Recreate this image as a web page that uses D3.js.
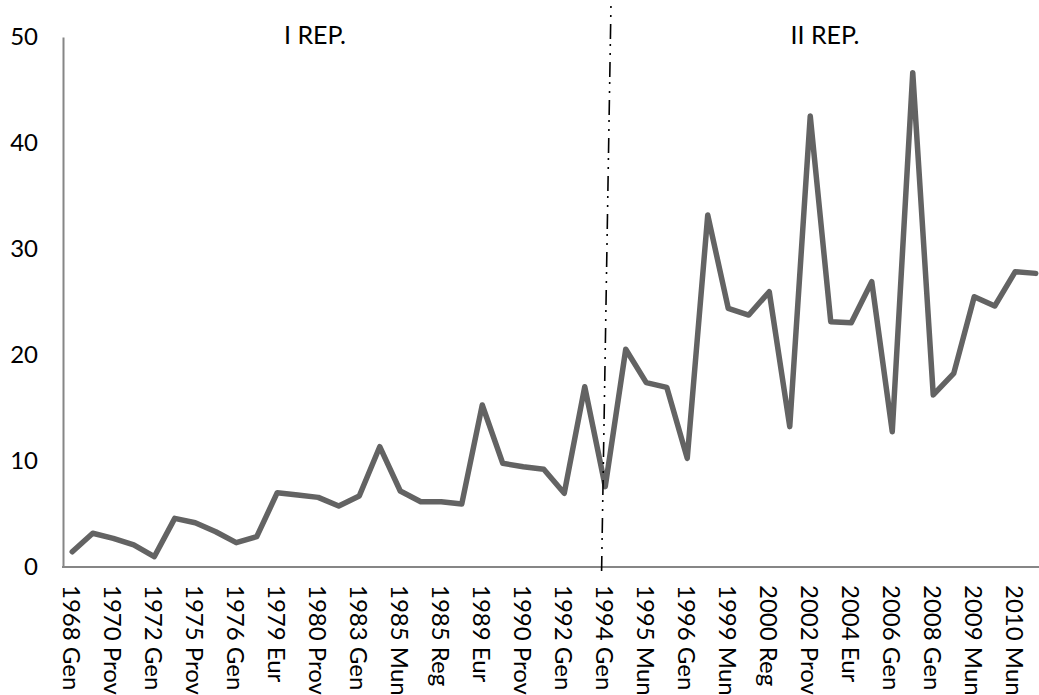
<!DOCTYPE html>
<html>
<head>
<meta charset="utf-8">
<script src="https://cdn.jsdelivr.net/npm/d3@7"></script>
<style>
  html, body { margin: 0; padding: 0; background: #fff; overflow: hidden; }
  svg { display: block; }
  text { font-family: Lato, "Open Sans", sans-serif; fill: #000; }
</style>
</head>
<body>
<svg id="chart" width="1039" height="695"></svg>
<script>
// Values (percent) for 48 consecutive elections; only every other category is labelled.
const values = [
  1.44, 3.18, 2.7, 2.08, 0.97, 4.59, 4.18, 3.33, 2.3, 2.86,
  7.01, 6.79, 6.57, 5.75, 6.7, 11.35, 7.17, 6.16, 6.16, 5.94,
  15.28, 9.78, 9.46, 9.22, 6.95, 17.0, 7.58, 20.54, 17.39, 16.95,
  10.25, 33.2, 24.4, 23.77, 25.97, 13.24, 42.55, 23.14, 23.05, 26.92,
  12.76, 46.63, 16.23, 18.27, 25.5, 24.62, 27.86, 27.7
];
// Tick labels shown on the axis (categories 0, 2, 4, ..., 46)
const tickLabels = [
  "1968 Gen", "1970 Prov", "1972 Gen", "1975 Prov", "1976 Gen", "1979 Eur",
  "1980 Prov", "1983 Gen", "1985 Mun", "1985 Reg", "1989 Eur", "1990 Prov",
  "1992 Gen", "1994 Gen", "1995 Mun", "1996 Gen", "1999 Mun", "2000 Reg",
  "2002 Prov", "2004 Eur", "2006 Gen", "2008 Gen", "2009 Mun", "2010 Mun"
];
const yTicks = [0, 10, 20, 30, 40, 50];
const periodLabels = ["I REP.", "II REP."];
const dividerIndex = 26; // 1994 Gen

const svg = d3.select("#chart");
const idx = d3.range(values.length);

const x = d3.scaleBand().domain(idx).range([62, 1046]).padding(0);
const xc = i => x(i) + x.bandwidth() / 2;
const y = d3.scaleLinear().domain([0, 50]).range([567, 37]);

// Y axis
const yAxis = svg.append("g")
  .attr("transform", "translate(63,0)")
  .call(d3.axisLeft(y).tickValues(yTicks).tickSize(0).tickPadding(25).tickFormat(d3.format("d")));
yAxis.select(".domain").attr("stroke", "#868686").attr("stroke-width", 2);
yAxis.selectAll("text").style("font-size", "24px").style("font-family", "Lato, sans-serif").attr("fill", "#000");

// X axis line
svg.append("line")
  .attr("x1", 62).attr("x2", 1039)
  .attr("y1", y(0)).attr("y2", y(0))
  .attr("stroke", "#868686").attr("stroke-width", 2);

// X tick labels (rotated)
const tickIdx = tickLabels.map((_, k) => k * 2);
svg.append("g").selectAll("text")
  .data(tickIdx)
  .join("text")
  .attr("transform", i => `translate(${xc(i) - 1},585) rotate(90)`)
  .attr("dy", "0.35em")
  .attr("text-anchor", "start")
  .style("font-size", "24px")
  .text((i, k) => tickLabels[k]);

// Data line
const line = d3.line().x((d, i) => xc(i)).y(d => y(d));
svg.append("path")
  .datum(values)
  .attr("d", line)
  .attr("fill", "none")
  .attr("stroke", "#636363")
  .attr("stroke-width", 5.5)
  .attr("stroke-linejoin", "round")
  .attr("stroke-linecap", "round");

// Divider (dash-dot-dot)
svg.append("line")
  .attr("x1", xc(dividerIndex) + 5.7).attr("y1", 6)
  .attr("x2", xc(dividerIndex) - 3.7).attr("y2", 573)
  .attr("stroke", "#000")
  .attr("stroke-width", 1.6)
  .attr("stroke-dasharray", "2,7,2,7,15,5");

// Period labels
svg.append("text").attr("x", 315).attr("y", 44).attr("text-anchor", "middle")
  .style("font-size", "25px").text(periodLabels[0]);
svg.append("text").attr("x", 825).attr("y", 44).attr("text-anchor", "middle")
  .style("font-size", "25px").text(periodLabels[1]);
</script>
</body>
</html>
